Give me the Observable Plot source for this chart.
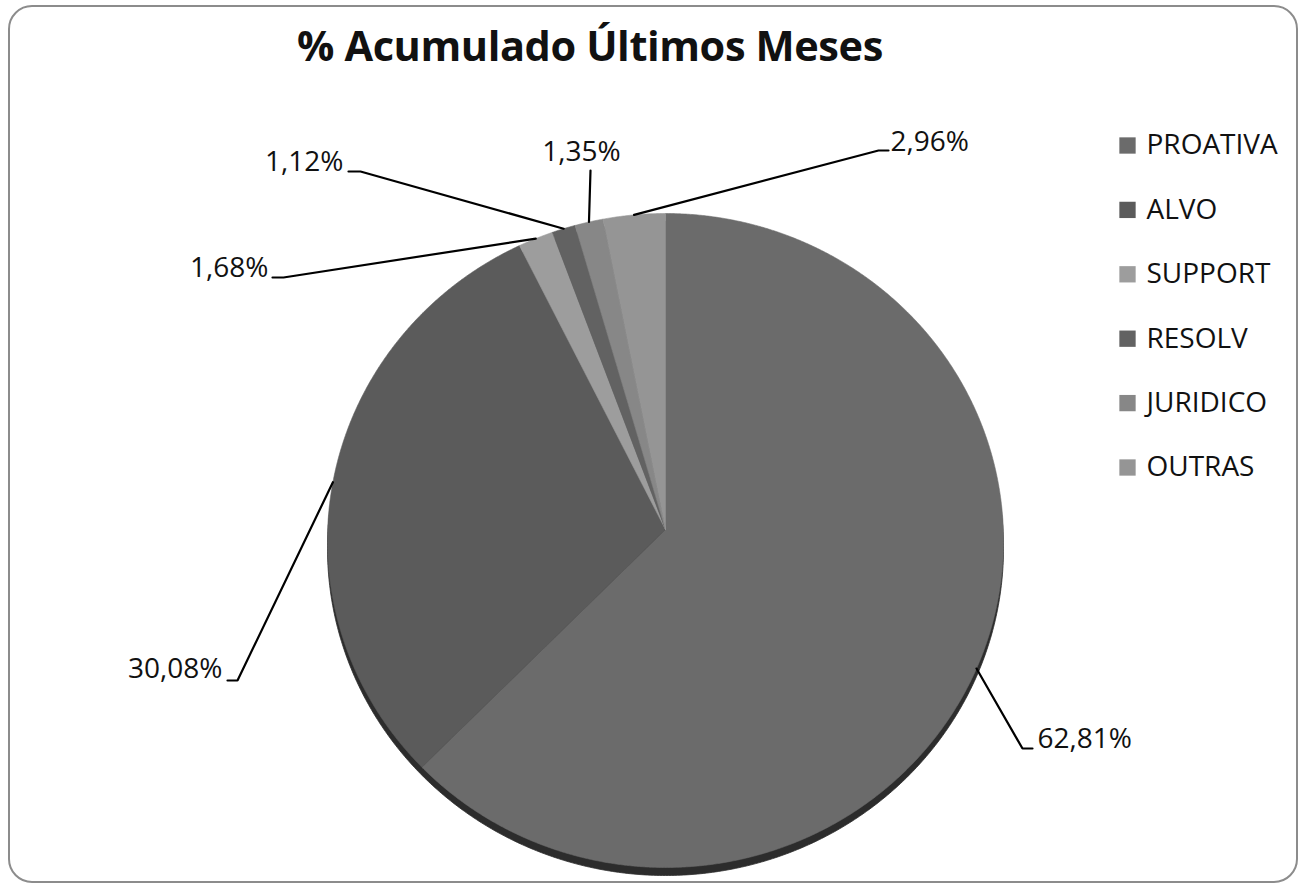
<!DOCTYPE html>
<html>
<head>
<meta charset="utf-8">
<script src="https://cdn.jsdelivr.net/npm/d3@7"></script>
<script src="https://cdn.jsdelivr.net/npm/@observablehq/plot@0.6"></script>
<style>
  html, body { margin: 0; padding: 0; background: #fff; }
  #wrap { position: relative; width: 1302px; height: 887px; overflow: hidden; font-family: "Open Sans", sans-serif; }
  #frame { position: absolute; left: 8px; top: 5px; width: 1290px; height: 878px; border: 2.5px solid #8c8c8c; border-radius: 24px; box-sizing: border-box; }
  #title { position: absolute; left: 0; top: 0; width: 1180px; height: 90px; display: flex; align-items: center; justify-content: center; font-family: "Open Sans", sans-serif; font-weight: 700; font-size: 41.5px; color: #111; letter-spacing: -0.4px; }
  #chart { position: absolute; left: 0; top: 88px; }
</style>
</head>
<body>
<div id="wrap">
  <div id="frame"></div>
  <div id="title">% Acumulado Últimos Meses</div>
  <div id="chart"></div>
</div>
<script>
// ---- data ----
const categories = ["PROATIVA", "ALVO", "SUPPORT", "RESOLV", "JURIDICO", "OUTRAS"];
const values = [62.81, 30.08, 1.68, 1.12, 1.35, 2.96];
const valueLabels = ["62,81%", "30,08%", "1,68%", "1,12%", "1,35%", "2,96%"];
const colors = ["#6b6b6b", "#5b5b5b", "#9d9d9d", "#626262", "#878787", "#959595"];

// ---- layout (page pixel space) ----
const W = 1302, H = 887, TOP = 88;
const cx = 665, cy = 540, rx = 338, ry = 327, apexY = 529;
// label placement: elbow point, stub end, text anchor point
const labelLayout = {
  PROATIVA: {elbow: [1022, 748], stub: [1032, 748], text: [1037, 739], anchor: "start"},
  ALVO:     {elbow: [237, 680],  stub: [227, 680],  text: [222, 669],  anchor: "end"},
  SUPPORT:  {elbow: [283, 277],  stub: [272, 277],  text: [268, 268],  anchor: "end"},
  RESOLV:   {elbow: [360, 171],  stub: [348, 171],  text: [343, 162],  anchor: "end"},
  JURIDICO: {elbow: [590, 170],  stub: [590, 170],  text: [581, 152],  anchor: "middle"},
  OUTRAS:   {elbow: [878, 150],  stub: [888, 150],  text: [890, 142],  anchor: "start"}
};

const total = d3.sum(values);
const rim = (deg, dy = 0) => {
  const t = deg * Math.PI / 180;
  return [cx + rx * Math.sin(t), cy - ry * Math.cos(t) + dy];
};

// slices
let acc = 0;
const slices = categories.map((c, i) => {
  const a0 = acc / total * 360;
  acc += values[i];
  const a1 = acc / total * 360;
  return {cat: c, a0, a1, mid: (a0 + a1) / 2, label: valueLabels[i]};
});

const slicePts = [];
for (const s of slices) {
  slicePts.push({cat: s.cat, x: cx, y: apexY});
  const n = Math.max(2, Math.ceil((s.a1 - s.a0) / 0.25));
  for (let k = 0; k <= n; k++) {
    const [x, y] = rim(s.a0 + (s.a1 - s.a0) * k / n);
    slicePts.push({cat: s.cat, x, y});
  }
  slicePts.push({cat: s.cat, x: cx, y: apexY});
}

// shadow (3D edge)
const shadowPts = d3.range(0, 361, 0.5).map(a => { const [x, y] = rim(a, 8); return {x, y}; });

// leader lines
const leaderPts = [];
for (const s of slices) {
  const L = labelLayout[s.cat];
  const [x0, y0] = rim(s.mid);
  leaderPts.push({cat: s.cat, x: x0, y: y0});
  leaderPts.push({cat: s.cat, x: L.elbow[0], y: L.elbow[1]});
  leaderPts.push({cat: s.cat, x: L.stub[0], y: L.stub[1]});
}
const labelData = slices.map(s => ({cat: s.cat, label: s.label, x: labelLayout[s.cat].text[0], y: labelLayout[s.cat].text[1], anchor: labelLayout[s.cat].anchor}));

// legend
const legendX = 1127, legendTop = 145, legendStep = 64.4;
const legendData = categories.map((c, i) => ({cat: c, x: legendX, y: legendTop + i * legendStep}));

const chart = Plot.plot({
  width: W,
  height: H - TOP,
  margin: 0,
  x: {domain: [0, W], range: [0, W], axis: null},
  y: {domain: [TOP, H], range: [0, H - TOP], axis: null},
  color: {domain: categories, range: colors},
  style: {background: "transparent", overflow: "visible"},
  marks: [
    Plot.line(shadowPts, {x: "x", y: "y", fill: "#2c2c2c", stroke: "#2c2c2c", strokeWidth: 0.8}),
    Plot.line(slicePts, {x: "x", y: "y", z: "cat", fill: "cat", stroke: "cat", strokeWidth: 0.6}),
    Plot.line(leaderPts, {x: "x", y: "y", z: "cat", stroke: "#000", strokeWidth: 2.2, strokeLinejoin: "miter"}),
    ...["start", "end", "middle"].map(a =>
      Plot.text(labelData.filter(d => d.anchor === a), {x: "x", y: "y", text: "label", textAnchor: a, fontSize: 28, fill: "#111", fontFamily: "Open Sans"})
    ),
    Plot.dot(legendData, {x: "x", y: "y", fill: "cat", symbol: "square", r: 9.2, stroke: "none"}),
    Plot.text(legendData, {x: d => d.x + 19, y: "y", text: "cat", textAnchor: "start", fontSize: 28, fill: "#111", fontFamily: "Open Sans"})
  ]
});
document.getElementById("chart").appendChild(chart);
</script>
</body>
</html>
